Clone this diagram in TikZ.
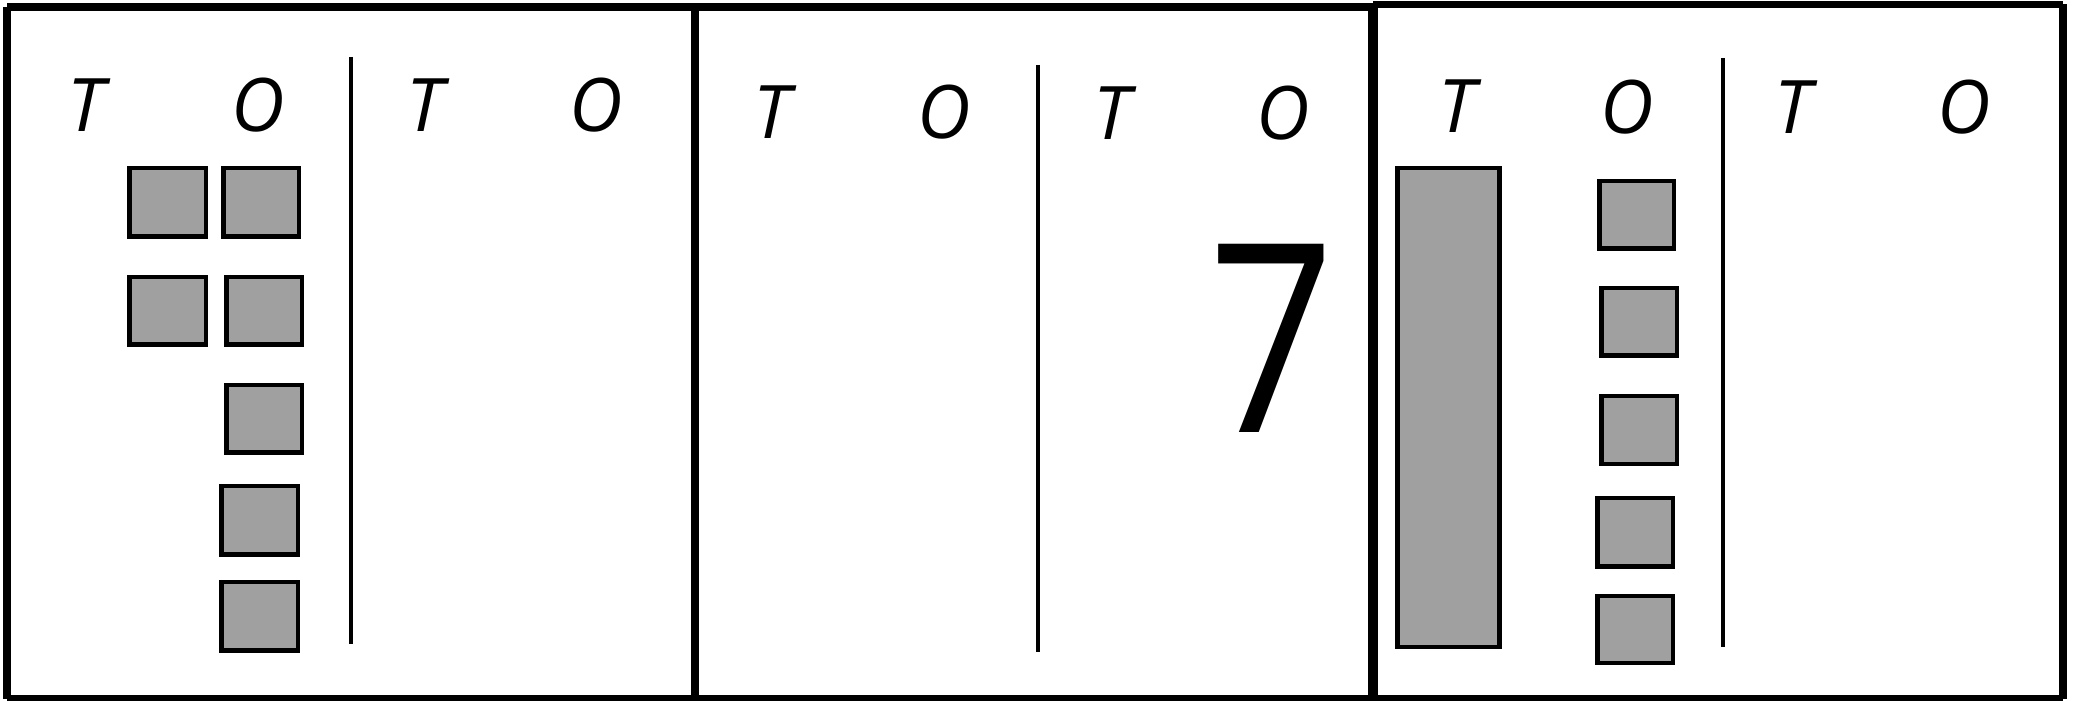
\documentclass[tikz,border=0pt]{standalone}
\usepackage{fontspec}
\newfontfamily\hand{Open Sans}
\definecolor{blockgray}{HTML}{A0A0A0}
\tikzset{
  frame/.style={line width=2pt, black},
  divider/.style={line width=1.3pt, black},
  block/.style={draw=black, line width=1.28pt, fill=blockgray},
  head/.style={anchor=base, inner sep=0pt, font=\hand\itshape\fontsize{21pt}{21pt}\selectfont},
  bignum/.style={anchor=base, inner sep=0pt, xscale=0.84, font=\hand\fontsize{75pt}{75pt}\selectfont}
}
\begin{document}
\begin{tikzpicture}[x=0.01cm, y=-0.01cm]
\useasboundingbox (0,0) rectangle (2078,701);
\fill[white] (0,0) rectangle (2078,701);
% panel frames
\draw[frame] (7,7) -- (695,7);
\draw[frame] (695,7) -- (1373,7);
\draw[frame] (1373,4.5) -- (2063,4.5);
\draw[frame] (7,7) -- (7,699);
\draw[frame] (7,699) -- (2063,699);
\draw[frame, line width=2.3pt] (695,7) -- (695,699);
\draw[frame, line width=2.85pt] (1373,3) -- (1373,699);
\draw[frame, line width=2.3pt] (2063,4.5) -- (2063,699);
% dividers
\coordinate (d1t) at (351,57);  \coordinate (d1b) at (351,644);
\coordinate (d2t) at (1038,65); \coordinate (d2b) at (1038,652);
\coordinate (d3t) at (1723,58); \coordinate (d3b) at (1723,647);
\draw[divider] (d1t) -- (d1b);
\draw[divider] (d2t) -- (d2b);
\draw[divider] (d3t) -- (d3b);
% headings panel 1
\node[head] (p1t1) at (86,132) {T};
\node[head] (p1o1) at (258,132) {O};
\node[head] (p1t2) at (425,132) {T};
\node[head] (p1o2) at (596,132) {O};
% headings panel 2
\node[head] (p2t1) at (772,139) {T};
\node[head] (p2o1) at (944,139) {O};
\node[head] (p2t2) at (1112,140) {T};
\node[head] (p2o2) at (1283,140) {O};
% headings panel 3
\node[head] (p3t1) at (1457,133) {T};
\node[head] (p3o1) at (1627,134) {O};
\node[head] (p3t2) at (1793,134) {T};
\node[head] (p3o2) at (1964,134) {O};
% number seven
\node[bignum] (seven) at (1272,433) {7};
% panel 1 blocks
\draw[block] (129.25,168.25) rectangle (205.75,236.75);
\draw[block] (223.25,168.25) rectangle (298.75,236.75);
\draw[block] (129.25,277.25) rectangle (205.75,344.75);
\draw[block] (226.25,277.25) rectangle (301.75,344.75);
\draw[block] (226.25,385.25) rectangle (301.75,452.75);
\draw[block] (221.25,486.25) rectangle (297.75,554.75);
\draw[block] (221.25,582.25) rectangle (297.75,650.75);
% panel 3 blocks
\draw[block] (1397.25,168.25) rectangle (1499.25,647.25);
\draw[block] (1599.25,181.25) rectangle (1673.75,248.75);
\draw[block] (1601.25,288.25) rectangle (1676.75,355.75);
\draw[block] (1601.25,396.25) rectangle (1676.75,464.25);
\draw[block] (1597.25,498.25) rectangle (1672.75,566.75);
\draw[block] (1597.25,596.25) rectangle (1672.75,663.25);
\end{tikzpicture}
\end{document}
